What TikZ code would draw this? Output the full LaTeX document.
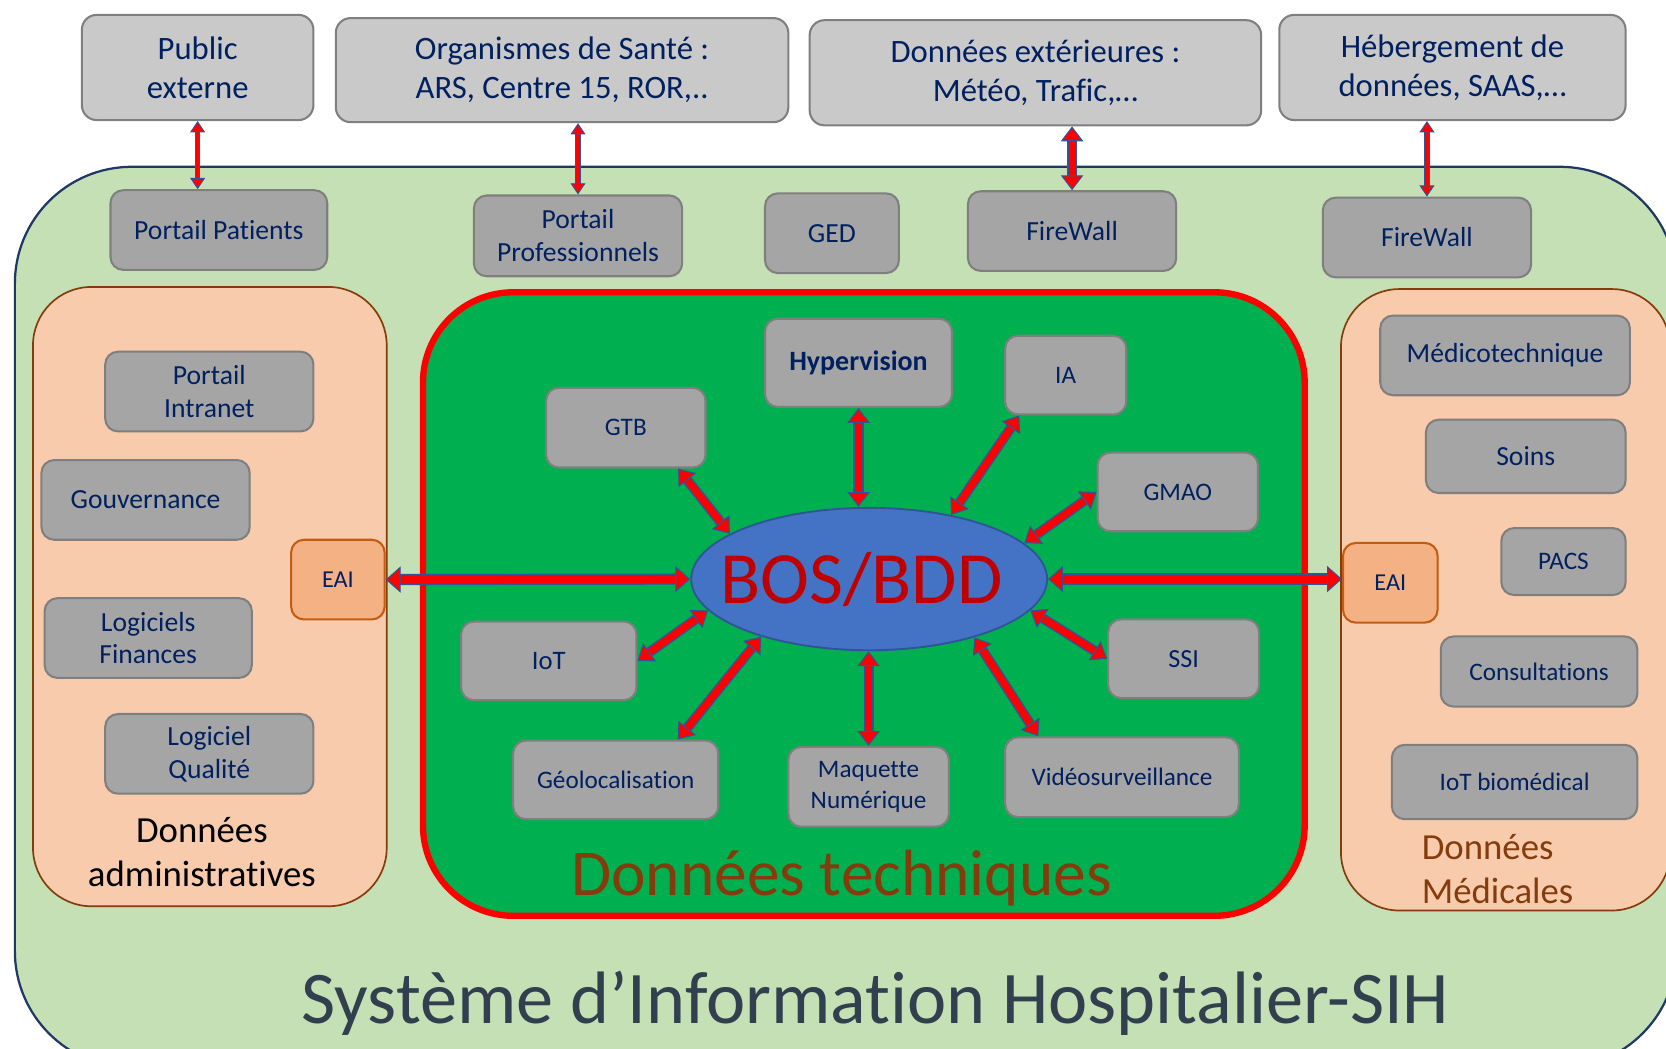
\documentclass[tikz,border=0pt]{standalone}
\usepackage{fontspec}
\setmainfont{Carlito}[Ligatures=NoCommon]
\usepackage{tikz}
\usetikzlibrary{shapes.geometric}
\usetikzlibrary{arrows.meta}
\definecolor{sihgreen}{HTML}{C5E0B4}
\definecolor{sihnavy}{HTML}{203864}
\definecolor{peach}{HTML}{F8CBAD}
\definecolor{peachline}{HTML}{843C0C}
\definecolor{techgreen}{HTML}{00B050}
\definecolor{boxgray}{HTML}{A5A5A5}
\definecolor{extgray}{HTML}{C9C9C9}
\definecolor{boxline}{HTML}{7F7F7F}
\definecolor{eaifill}{HTML}{F4B183}
\definecolor{eailine}{HTML}{C55A11}
\definecolor{bosblue}{HTML}{4472C4}
\definecolor{bosline}{HTML}{2F5597}
\definecolor{bosred}{HTML}{C00000}
\definecolor{boxtext}{HTML}{002060}
\definecolor{titlegray}{HTML}{323F4F}
\tikzset{
wh/.style 2 args={minimum width=#1cm,minimum height=#2cm},
extbox/.style={
  rectangle, rounded corners=0.28cm,
  draw=boxline, fill=extgray, line width=1.1pt,
  text=boxtext, align=center, inner sep=2pt,
  font=\fontsize{17.5}{21}\selectfont
},
appbox/.style={
  rectangle, rounded corners=0.24cm,
  draw=boxline, fill=boxgray, line width=1.1pt,
  text=boxtext, align=center, inner sep=2pt,
  font=\fontsize{14.8}{17.6}\selectfont
},
techbox/.style={appbox,font=\fontsize{13.5}{16.5}\selectfont},
eaibox/.style={appbox,draw=eailine,fill=eaifill,font=\fontsize{13}{16}\selectfont},
panel/.style={rectangle,draw=peachline,fill=peach,line width=0.9pt,rounded corners=1.1cm,inner sep=0pt},
techpanel/.style={rectangle,draw=red,fill=techgreen,line width=3.4pt,rounded corners=1.7cm,inner sep=0pt},
thinlink/.style={
  draw=red, line width=1.8pt,
  >={Triangle[length=6pt,width=8pt,fill=red,color=bosline,line width=0.5pt]}, <->,
  preaction={draw=bosline,line width=3pt,-,shorten <=4pt,shorten >=4pt}
},
link/.style={
  draw=red, line width=3.8pt,
  >={Triangle[length=8pt,width=12pt,fill=red,color=bosline,line width=0.6pt]}, <->,
  preaction={draw=bosline,line width=5.4pt,-,shorten <=5.5pt,shorten >=5.5pt}
},
biglink/.style={
  draw=red, line width=4.4pt,
  >={Triangle[length=8pt,width=14pt,fill=red,color=bosline,line width=0.6pt]}, <->,
  preaction={draw=bosline,line width=6pt,-,shorten <=5.5pt,shorten >=5.5pt}
},
}

\begin{document}
\begin{tikzpicture}[x=0.02cm,y=-0.02cm]
\useasboundingbox (0,0) rectangle (1568,987);
\clip (0,0) rectangle (1568,987);
% the SIH frame
\draw[sihnavy,fill=sihgreen,line width=1.2pt,rounded corners=2.2cm] (14,157) rectangle (1578,1005);
\node[panel,wh={6.66}{11.66}] (admin) at (197.5,561.5) {};
\node[panel,wh={6.2}{11.7}] (medic) at (1417,564.5) {};
\node[techpanel,wh={16.6}{11.74}] (tech) at (813,568.5) {};
% the outside world
\node[extbox,wh={4.36}{1.98}] (pub) at (186,63.5) {Public\\externe};
\node[extbox,wh={8.52}{1.96}] (org) at (529,66) {Organismes de Santé :\\ARS, Centre 15, ROR,..};
\node[extbox,wh={8.5}{1.98}] (dext) at (974.5,68.5) {Données extérieures :\\Météo, Trafic,…};
\node[extbox,wh={6.52}{1.98}] (heb) at (1367,63.5) {Hébergement de\\données, SAAS,…};
% the portals
\node[appbox,wh={4.08}{1.5}] (ppat) at (206,216.5) {Portail Patients};
\node[appbox,wh={3.92}{1.52}] (ppro) at (544,222) {Portail\\Professionnels};
\node[appbox,wh={2.52}{1.5}] (ged) at (783,219.5) {GED};
\node[appbox,wh={3.92}{1.5}] (fw1) at (1009,217.5) {FireWall};
\node[appbox,wh={3.92}{1.5}] (fw2) at (1343,223.5) {FireWall};
% administrative data
\node[appbox,wh={3.92}{1.5}] (pintra) at (197,368.5) {Portail\\Intranet};
\node[appbox,wh={3.92}{1.5}] (gouv) at (137,470.5) {Gouvernance};
\node[eaibox,wh={1.76}{1.5}] (eaiL) at (318,545.5) {EAI};
\node[appbox,wh={3.9}{1.5}] (logfin) at (139.5,600.5) {Logiciels\\Finances};
\node[appbox,wh={3.92}{1.5}] (logqual) at (197,709.5) {Logiciel\\Qualité};
\node[font=\fontsize{19.7}{24}\selectfont,align=center] (adminlabel) at (190,802) {Données\\administratives};
% technical data
\node[techbox,wh={3.52}{1.66},font=\fontsize{15}{18}\selectfont\bfseries] (hyper) at (808,341.5) {Hypervision};
\node[techbox,wh={3.0}{1.5}] (gtb) at (589,402.5) {GTB};
\node[techbox,wh={2.28}{1.48}] (ia) at (1003,353) {IA};
\node[techbox,wh={3.02}{1.48}] (gmao) at (1108.5,463) {GMAO};
\node[techbox,wh={2.84}{1.48},font=\fontsize{14}{17}\selectfont] (ssi) at (1114,620) {SSI};
\node[techbox,wh={3.3}{1.48},font=\fontsize{14.3}{17}\selectfont] (iot) at (516.5,622) {IoT};
\node[techbox,wh={3.86}{1.48}] (geo) at (579.5,734) {Géolocalisation};
\node[techbox,wh={3.02}{1.5}] (maq) at (817.5,740.5) {Maquette\\Numérique};
\node[techbox,wh={4.4}{1.5}] (video) at (1056,731.5) {Vidéosurveillance};
\node[ellipse,draw=bosline,fill=bosblue,line width=1pt,inner sep=0pt,wh={6.7}{2.68}] (bos) at (818,545) {};
\node[text=bosred,font=\fontsize{39.5}{44}\selectfont] (bostext) at (811,545) {BOS/BDD};
\node[text=peachline,font=\fontsize{35}{40}\selectfont] (techlabel) at (792,826) {Données techniques};
% medical data
\node[appbox,wh={4.7}{1.5}] (medtech) at (1416.5,334.5) {Médicotechnique};
\node[appbox,wh={3.76}{1.38}] (soins) at (1436,429.5) {Soins};
\node[eaibox,wh={1.78}{1.5}] (eaiR) at (1308.5,548.5) {EAI};
\node[techbox,wh={2.34}{1.26}] (pacs) at (1471.5,528.5) {PACS};
\node[techbox,wh={3.7}{1.32}] (consult) at (1448.5,632) {Consultations};
\node[techbox,wh={4.62}{1.4}] (iotbio) at (1425.5,736) {IoT biomédical};
\node[text=peachline,font=\fontsize{19.7}{24}\selectfont,align=left,anchor=west] (medlabel) at (1332,818) {Données\\Médicales};
% the title
\node[text=titlegray,font=\fontsize{39.8}{46}\selectfont] (title) at (824,944) {Système d’Information Hospitalier-SIH};
% the arrows
\draw[thinlink] (pub.south) -- (pub.south |- ppat.north);
\draw[thinlink] (ppro.north |- org.south) -- (ppro.north);
\draw[link] (fw1.north |- dext.south) -- (fw1.north);
\draw[thinlink] (fw2.north |- heb.south) -- (fw2.north);
\draw[biglink] (eaiL.east) -- (bos.west);
\draw[biglink] (bos.east) -- (bos.east -| eaiR.west);
\draw[link] (hyper.south) -- (hyper.south |- bos.north);
\draw[link] (gtb.-38) -- (bos.162);
\draw[link] (ia.221) -- (bos.38);
\draw[link] (gmao.west) -- (bos.13);
\draw[link] (ssi.west) -- (bos.-11);
\draw[link] (iot.east) -- (bos.191);
\draw[link] (geo.33) -- (bos.208);
\draw[link] (maq.north) -- (maq.north |- bos.south);
\draw[link] (video.154) -- (bos.-29);
\end{tikzpicture}
\end{document}
